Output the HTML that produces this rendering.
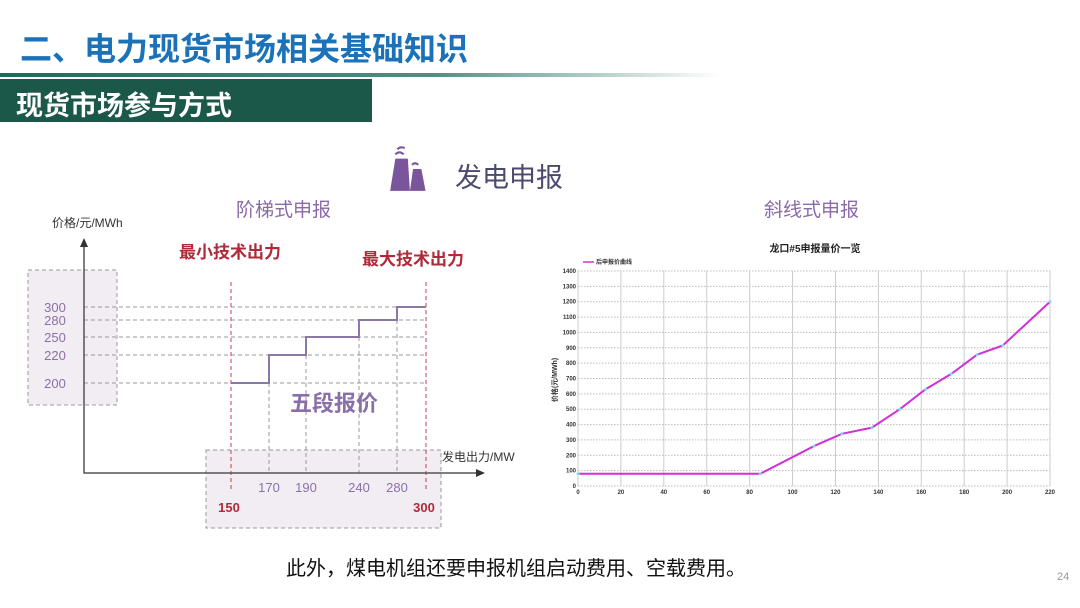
<!DOCTYPE html>
<html><head><meta charset="utf-8">
<style>
body{margin:0;width:1080px;height:608px;background:#fff;overflow:hidden;position:relative;font-family:"Liberation Sans","Noto Sans CJK SC",sans-serif}
.a{position:absolute;white-space:nowrap}
</style></head><body>
<div class="a" style="left:20px;top:24px;font-size:32px;font-weight:bold;color:#1b72b9">二、电力现货市场相关基础知识</div>
<div class="a" style="left:0;top:73px;width:720px;height:4px;background:linear-gradient(90deg,#1e6a5a,#4d8f84 60%,rgba(255,255,255,0))"></div>
<div class="a" style="left:0;top:79px;width:372px;height:43px;background:#1b584a"></div>
<div class="a" style="left:16px;top:84px;font-size:27px;font-weight:bold;color:#fff">现货市场参与方式</div>
<svg class="a" style="left:386px;top:144px" width="52" height="50" viewBox="0 0 48 48">
<path d="M8 10 q4 -4 8 0 M10 5 q3 -3 7 -1" stroke="#7a5a9a" stroke-width="2" fill="none"/>
<path d="M24 20 q3 -3 6 0" stroke="#7a5a9a" stroke-width="2" fill="none"/>
<path d="M3 45 L8 14 L20 14 L22 45Z M22 45 L25 24 L33 24 L37 45Z" fill="#7b559b"/>
</svg>
<div class="a" style="left:455px;top:156px;font-size:27px;color:#4a4a6e">发电申报</div>
<div class="a" style="left:236px;top:195px;font-size:19px;color:#8a6aa8">阶梯式申报</div>
<div class="a" style="left:764px;top:195px;font-size:19px;color:#8a6aa8">斜线式申报</div>

<svg class="a" id="left" style="left:0;top:0" width="540" height="540"></svg>
<svg class="a" id="right" style="left:540px;top:230px" width="530" height="280"></svg>

<div class="a" style="left:286px;top:552px;font-size:20px;color:#111">此外，煤电机组还要申报机组启动费用、空载费用。</div>
<div class="a" style="left:1057px;top:571px;font-size:11px;color:#999">24</div>

<script>
const stepX=[150,170,190,240,280,300];
const stepY=[200,220,250,280,300];
const yTicks=[200,220,250,280,300];
const xTicksTop=[170,190,240,280];
const xTicksRed=[150,300];

const slopeX=[0,85,110,123,137,150,162,174,186,198,220];
const slopeY=[80,80,260,340,380,500,630,730,855,915,1200];
const rXTicks=[0,20,40,60,80,100,120,140,160,180,200,220];
const rYTicks=[0,100,200,300,400,500,600,700,800,900,1000,1100,1200,1300,1400];

const NS="http://www.w3.org/2000/svg";
function mk(p,t,a,txt){const e=document.createElementNS(NS,t);for(const k in a)e.setAttribute(k,a[k]);if(txt!==undefined)e.textContent=txt;p.appendChild(e);return e;}
function pw(d,r){return v=>{for(let i=0;i<d.length-1;i++){if(v<=d[i+1]||i==d.length-2){return r[i]+(v-d[i])/(d[i+1]-d[i])*(r[i+1]-r[i]);}}};}

const L=document.getElementById('left');
const lx=pw([0,150,170,190,240,280,300],[84,231,269,306,359,397,426]);
const ly=pw([0,200,220,250,280,300],[473,383,355,337,320,307]);
let e;
e=mk(L,'rect',{x:28,y:270,width:89,height:135,fill:'#f1edf2',stroke:'#999','stroke-dasharray':'4 3'});

e=mk(L,'rect',{x:206,y:450,width:235,height:78,fill:'#f1edf2',stroke:'#999','stroke-dasharray':'4 3'});

yTicks.forEach(v=>{
 e=mk(L,'line',{x1:84,x2:lx(300),y1:ly(v),y2:ly(v),stroke:'#999','stroke-dasharray':'4 3'});
 
 e=mk(L,'text',{x:55,y:ly(v)+5,'font-size':13,'text-anchor':'middle',fill:'#8a70a8'},v);
 
});
stepX.forEach(v=>{
 const red=xTicksRed.includes(v);
 e=mk(L,'line',{x1:lx(v),x2:lx(v),y1:red?282:ly(stepY[Math.max(0,stepX.indexOf(v)-1)]),y2:red?492:473,stroke:red?'#c04050':'#999','stroke-dasharray':'4 3'});
 
});
xTicksTop.forEach(v=>{e=mk(L,'text',{x:lx(v),y:492,'font-size':13,'text-anchor':'middle',fill:'#8a70a8'},v);
 });
xTicksRed.forEach(v=>{e=mk(L,'text',{x:lx(v)-2,y:512,'font-size':13,'font-weight':'bold','text-anchor':'middle',fill:'#b02a3a'},v);
 });
let d='';
for(let i=0;i<stepY.length;i++){d+=(i?'L':'M')+lx(stepX[i])+' '+ly(stepY[i])+' L'+lx(stepX[i+1])+' '+ly(stepY[i]);}
e=mk(L,'path',{d:d,fill:'none',stroke:'#8a78a8','stroke-width':2});

e=mk(L,'path',{d:'M84 244 V473 H478',fill:'none',stroke:'#555','stroke-width':1.5});

mk(L,'path',{d:'M80 247 L84 238 L88 247Z M476 469 L485 473 L476 477Z',fill:'#333'});
e=mk(L,'text',{x:52,y:227,'font-size':12,fill:'#333'},'价格/元/MWh');
e=mk(L,'text',{x:442,y:461,'font-size':12,fill:'#333'},'发电出力/MW');
e=mk(L,'text',{x:179,y:258,'font-size':17,'font-weight':'bold',fill:'#b02a3a'},'最小技术出力');
e=mk(L,'text',{x:362,y:265,'font-size':17,'font-weight':'bold',fill:'#b02a3a'},'最大技术出力');
e=mk(L,'text',{x:290,y:411,'font-size':22,'font-weight':'bold',fill:'#8a70a8'},'五段报价');

const R=document.getElementById('right');
const rx=v=>38+v/220*472, ry=v=>256-v/1400*215;
rYTicks.forEach(v=>{
 e=mk(R,'line',{x1:38,x2:510,y1:ry(v),y2:ry(v),stroke:'#bbb','stroke-dasharray':'1.5 1.5'});
 
 e=mk(R,'text',{x:36,y:ry(v)+2,'font-size':6,'font-weight':'bold','text-anchor':'end',fill:'#333'},v);
 
});
rXTicks.forEach(v=>{
 e=mk(R,'line',{x1:rx(v),x2:rx(v),y1:ry(1400),y2:ry(0),stroke:'#ccc'});
 
 e=mk(R,'text',{x:rx(v),y:ry(0)+8,'font-size':6,'font-weight':'bold','text-anchor':'middle',fill:'#333'},v);
 
});
e=mk(R,'polyline',{points:slopeX.map((x,i)=>rx(x)+','+ry(slopeY[i])).join(' '),fill:'none',stroke:'#d030d8','stroke-width':2});

slopeX.forEach((x,i)=>{e=mk(R,'circle',{cx:rx(x),cy:ry(slopeY[i]),r:1.5,fill:'#7fd8f0'});
 });
e=mk(R,'text',{x:275,y:22,'font-size':10,'font-weight':'bold','text-anchor':'middle',fill:'#222'},'龙口#5申报量价一览');
mk(R,'line',{x1:43,x2:54,y1:32,y2:32,stroke:'#d030d8','stroke-width':1.5});
e=mk(R,'text',{x:56,y:34,'font-size':6,'font-weight':'bold',fill:'#333'},'后申报价曲线');
e=mk(R,'text',{x:0,y:0,'font-size':7,'font-weight':'bold',fill:'#333',transform:'translate(17,150) rotate(-90)','text-anchor':'middle'},'价格(元/MWh)');
</script>
</body></html>
